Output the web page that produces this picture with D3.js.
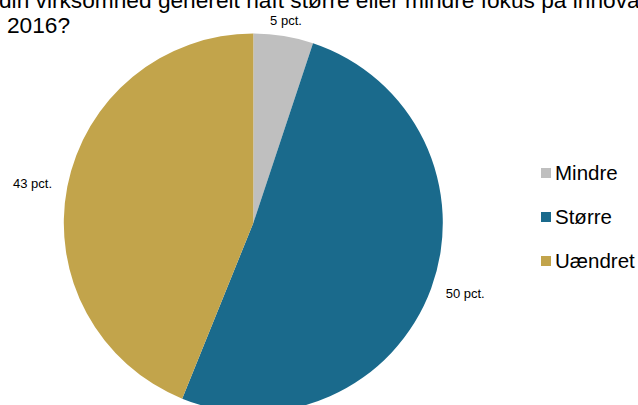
<!DOCTYPE html>
<html>
<head>
<meta charset="utf-8">
<script src="https://cdn.jsdelivr.net/npm/d3@7"></script>
<style>
  body { margin: 0; background: #fff; }
  #graphic { width: 638px; height: 405px; overflow: hidden; }
  text { font-family: "Liberation Sans", Arial, sans-serif; fill: #000; }
</style>
</head>
<body>
<div id="graphic"></div>
<script>
// fokus paa innovation, andel af virksomheder
const categories = ["Mindre", "Større", "Uændret"];
const values = [5, 50, 43];
const valueLabels = ["5 pct.", "50 pct.", "43 pct."];
const colors = ["#BFBFBF", "#1A6A8C", "#C2A44B"];
const titleLines = ["din virksomhed generelt haft større eller mindre fokus på innovation i", "2016?"];

const pieChart = {
  create(opts){
    const instance = Object.create(this);
    Object.keys(opts).forEach(function(key){
      instance[key] = opts[key];
    });
    return instance;
  },
  el: "#graphic",
  width: 638,
  height: 405,
  center: { x: 253.3, y: 223 },
  radius: 189.5,
  labelRadius: 205,
  drawPlot(){
    document.querySelector(this.el).innerHTML = "";
    this.svg = d3.select(this.el)
      .append("svg")
      .attr("width", this.width)
      .attr("height", this.height);
  },
  drawTitle(){
    const title = this.svg.append("text")
      .attr("class", "title")
      .attr("font-size", 22.7);

    title.selectAll("tspan")
      .data(titleLines)
      .enter()
      .append("tspan")
      .attr("x", (d, i) => i === 0 ? -1 : 7)
      .attr("y", (d, i) => 8 + i * 25)
      .text(d => d);
  },
  drawData(){
    const that = this;
    const pie = d3.pie()
      .sort(null)
      .value(d => d);
    this.arcs = pie(values);

    const arc = d3.arc()
      .innerRadius(0)
      .outerRadius(this.radius);

    const group = this.svg.append("g")
      .attr("class", "slices")
      .attr("transform", `translate(${this.center.x}, ${this.center.y})`);

    group.selectAll("path")
      .data(this.arcs)
      .enter()
      .append("path")
      .attr("d", arc)
      .attr("fill", (d, i) => colors[i]);

    // labels sit just outside the rim, anchored by which side they are on
    group.selectAll("text")
      .data(this.arcs)
      .enter()
      .append("text")
      .attr("font-size", 13)
      .attr("dominant-baseline", "central")
      .attr("x", function(d){
        const a = (d.startAngle + d.endAngle) / 2;
        return that.labelRadius * Math.sin(a);
      })
      .attr("y", function(d){
        const a = (d.startAngle + d.endAngle) / 2;
        return -that.labelRadius * Math.cos(a);
      })
      .attr("text-anchor", function(d){
        const s = Math.sin((d.startAngle + d.endAngle) / 2);
        if (s > 0.3) return "start";
        if (s < -0.3) return "end";
        return "middle";
      })
      .text((d, i) => valueLabels[i]);
  },
  drawLegend(){
    const legendY = d3.scalePoint()
      .domain(categories)
      .range([173, 261]);

    const items = this.svg.append("g")
      .attr("class", "legend")
      .selectAll("g")
      .data(categories)
      .enter()
      .append("g")
      .attr("transform", d => `translate(541, ${legendY(d)})`);

    items.append("rect")
      .attr("x", 0)
      .attr("y", -5)
      .attr("width", 10)
      .attr("height", 10)
      .attr("fill", (d, i) => colors[i]);

    items.append("text")
      .attr("x", 14)
      .attr("dy", "0.36em")
      .attr("font-size", 20.5)
      .text(d => d);
  },
  draw(){
    this.drawPlot();
    this.drawData();
    this.drawLegend();
    this.drawTitle();
  }
};

pieChart.create({}).draw();
</script>
</body>
</html>
